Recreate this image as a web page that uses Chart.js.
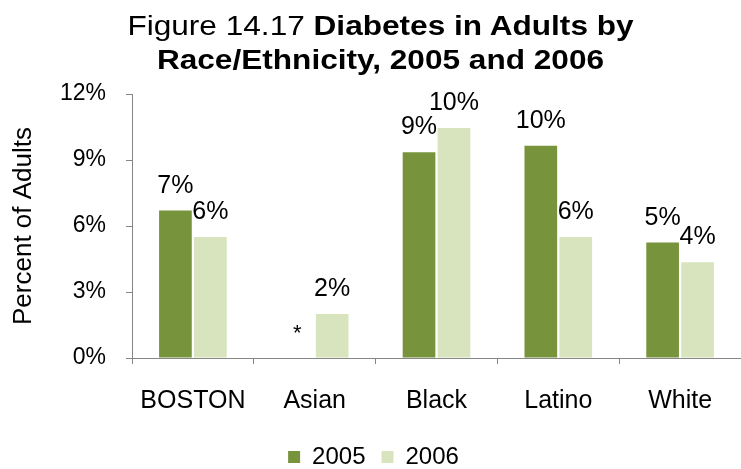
<!DOCTYPE html>
<html>
<head>
<meta charset="utf-8">
<script src="https://cdn.jsdelivr.net/npm/chart.js@4"></script>
<style>
  html, body { margin: 0; padding: 0; background: #fff; }
  #wrap { position: relative; width: 741px; height: 469px; overflow: hidden; }
  #title { position: absolute; left: 10px; top: 9px; width: 741px; text-align: center;
           font-family: "Liberation Sans", Arial, sans-serif; font-size: 27px; line-height: 34px; color: #000;
           transform: scaleX(1.17); transform-origin: 50% 0; }
  canvas { position: absolute; left: 0; top: 0; }
</style>
</head>
<body>
<div id="wrap">
  <canvas id="c" width="741" height="469"></canvas>
  <div id="title">Figure 14.17 <b>Diabetes in Adults by</b><br><b>Race/Ethnicity, 2005 and 2006</b></div>
</div>
<script>
const categories = ["BOSTON", "Asian", "Black", "Latino", "White"];
const seriesNames = ["2005", "2006"];
const values2005 = [6.7, null, 9.35, 9.65, 5.25];
const values2006 = [5.5, 2.0, 10.45, 5.5, 4.35];
const yTicks = [0, 3, 6, 9, 12];

const FONT = '"Liberation Sans", Arial, sans-serif';
const GREEN = '#77933C';
const LIGHT = '#D7E4BD';
const AXIS = '#868686';

const labelPlugin = {
  id: 'barLabels',
  afterDatasetsDraw(chart) {
    const ctx = chart.ctx;
    const yScale = chart.scales.y;
    ctx.save();
    ctx.fillStyle = '#000';
    ctx.textAlign = 'center';
    ctx.textBaseline = 'alphabetic';
    chart.data.datasets.forEach((ds, di) => {
      const meta = chart.getDatasetMeta(di);
      meta.data.forEach((el, i) => {
        const v = ds.data[i];
        if (v === null || v === undefined) {
          ctx.font = '22px ' + FONT;
          ctx.fillText('*', el.x, yScale.getPixelForValue(0) - 18);
        } else {
          ctx.font = '25px ' + FONT;
          ctx.fillText(Math.round(v) + '%', el.x, el.y - 18);
        }
      });
    });
    ctx.restore();
  }
};

new Chart(document.getElementById('c'), {
  type: 'bar',
  data: {
    labels: categories,
    datasets: [
      { label: seriesNames[0], data: values2005, backgroundColor: GREEN, borderWidth: 0 },
      { label: seriesNames[1], data: values2006, backgroundColor: LIGHT, borderWidth: 0 }
    ]
  },
  options: {
    responsive: false,
    animation: false,
    layout: { padding: { top: 94, left: 0, right: -6, bottom: -10 } },
    categoryPercentage: 0.574,
    barPercentage: 0.935,
    plugins: {
      title: { display: false },
      tooltip: { enabled: false },
      legend: {
        position: 'bottom',
        labels: {
          font: { family: FONT, size: 24 },
          color: '#000',
          boxWidth: 12,
          boxHeight: 12,
          padding: 16
        }
      }
    },
    scales: {
      x: {
        afterFit: s => { s.height = 71; },
        grid: { display: true, offset: true, drawOnChartArea: false, drawTicks: true, tickLength: 6, color: AXIS },
        border: { display: true, color: AXIS, width: 1 },
        ticks: { font: { family: FONT, size: 25 }, color: '#000', padding: 22, maxRotation: 0 }
      },
      y: {
        min: 0, max: 12,
        afterFit: s => { s.width = 132; },
        afterBuildTicks: s => { s.ticks = yTicks.map(v => ({ value: v })); },
        grid: { display: true, drawOnChartArea: false, drawTicks: true, tickLength: 6, color: AXIS },
        border: { display: true, color: AXIS, width: 1 },
        ticks: { font: { family: FONT, size: 23 }, color: '#000', padding: 20, callback: v => v + '%' },
        title: { display: true, text: 'Percent of Adults', font: { family: FONT, size: 26 }, color: '#000', padding: { top: 8, bottom: 0 } }
      }
    }
  },
  plugins: [labelPlugin]
});
</script>
</body>
</html>
